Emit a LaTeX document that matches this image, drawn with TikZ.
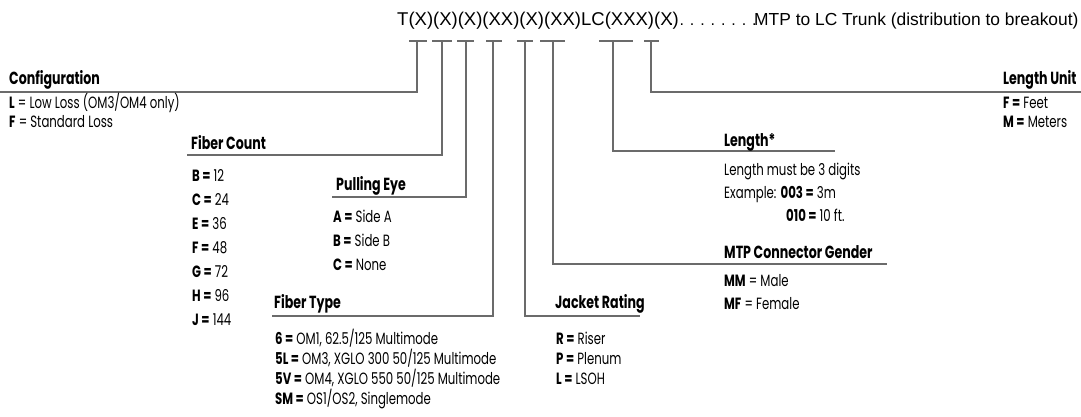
\documentclass[tikz,border=0pt]{standalone}
\usepackage{fontspec}
\setmainfont{Liberation Sans}
\newfontfamily\labfont{Poppins}[FakeStretch=0.72]
\begin{document}
\begin{tikzpicture}[x=1pt,y=-1pt,
  ln/.style={draw=black!58, line width=1.3pt},
  head/.style={anchor=base west, inner sep=0pt, font=\labfont\bfseries\fontsize{17.5}{18}\selectfont},
  item/.style={anchor=base west, inner sep=0pt, font=\labfont\fontsize{16.3}{17}\selectfont},
  title/.style={anchor=base west, inner sep=0pt, font=\fontsize{18.5}{19}\selectfont}]
\useasboundingbox (0,0) rectangle (1081,416);
\node[title] (code) at (397,25) {T(X)(X)(X)(XX)(X)(XX)LC(XXX)(X)};
\node[title, font=\fontsize{16}{18}\selectfont] (dots) at (669,25) {. . . . . . . . .};
\node[title, font=\fontsize{17.4}{18}\selectfont] (desc) at (754,25) {MTP to LC Trunk (distribution to breakout)};

% tick bars
\coordinate (t1) at (417,41); \draw[ln] (409,41) -- (427,41);
\coordinate (t2) at (442,41); \draw[ln] (432,41) -- (452,41);
\coordinate (t3) at (466,41); \draw[ln] (457,41) -- (474,41);
\coordinate (t4) at (493,41); \draw[ln] (486,41) -- (502,41);
\coordinate (t5) at (525,41); \draw[ln] (517,41) -- (533,41);
\coordinate (t6) at (553,41); \draw[ln] (540,41) -- (565,41);
\coordinate (t7) at (613,41); \draw[ln] (599,41) -- (633,41);
\coordinate (t8) at (651,41); \draw[ln] (644,41) -- (659,41);

% underline ends
\coordinate (e1) at (0,92);
\coordinate (e2) at (187,155);
\coordinate (e3) at (332,197);
\coordinate (e4) at (272,316);
\coordinate (e5) at (640,316);
\coordinate (e6) at (887,264);
\coordinate (e7) at (835,151);
\coordinate (e8) at (1081,92);

\draw[ln] (t1) |- (e1);
\draw[ln] (t2) |- (e2);
\draw[ln] (t3) |- (e3);
\draw[ln] (t4) |- (e4);
\draw[ln] (t5) |- (e5);
\draw[ln] (t6) |- (e6);
\draw[ln] (t7) |- (e7);
\draw[ln] (t8) |- (e8);

% Configuration
\node[head] (cfg) at (9,84) {Configuration};
\node[item] (cfgL) at (9,108) {\textbf{L} = Low Loss (OM3/OM4 only)};
\node[item] (cfgF) at (9,127) {\textbf{F} = Standard Loss};

% Fiber Count
\node[head] (fc) at (191,149) {Fiber Count};
\node[item] (fcB) at (192,181) {\textbf{B =} 12};
\node[item] (fcC) at (192,205) {\textbf{C =} 24};
\node[item] (fcE) at (192,229) {\textbf{E =} 36};
\node[item] (fcF) at (192,253) {\textbf{F =} 48};
\node[item] (fcG) at (192,277) {\textbf{G =} 72};
\node[item] (fcH) at (192,301) {\textbf{H =} 96};
\node[item] (fcJ) at (192,325) {\textbf{J =} 144};

% Pulling Eye
\node[head] (pe) at (336,190) {Pulling Eye};
\node[item] (peA) at (333,222) {\textbf{A =} Side A};
\node[item] (peB) at (333,246) {\textbf{B =} Side B};
\node[item] (peC) at (333,270) {\textbf{C =} None};

% Fiber Type
\node[head] (ft) at (274,308) {Fiber Type};
\node[item] (ft6) at (275,344) {\textbf{6 =} OM1, 62.5/125 Multimode};
\node[item] (ft5L) at (275,364) {\textbf{5L =} OM3, XGLO 300 50/125 Multimode};
\node[item] (ft5V) at (275,384) {\textbf{5V =} OM4, XGLO 550 50/125 Multimode};
\node[item] (ftSM) at (275,404) {\textbf{SM =} OS1/OS2, Singlemode};

% Jacket Rating
\node[head] (jr) at (555,308) {Jacket Rating};
\node[item] (jrR) at (556,344) {\textbf{R =} Riser};
\node[item] (jrP) at (556,364) {\textbf{P =} Plenum};
\node[item] (jrL) at (556,384) {\textbf{L =} LSOH};

% MTP Connector Gender
\node[head] (mtp) at (724,258) {MTP Connector Gender};
\node[item] (mtpM) at (724,286) {\textbf{MM} = Male};
\node[item] (mtpF) at (724,309) {\textbf{MF} = Female};

% Length
\node[head] (len) at (724,146) {Length*};
\node[item] (len1) at (724,175) {Length must be 3 digits};
\node[item] (len2) at (724,198) {Example: \textbf{003 =} 3m};
\node[item] (len3) at (786,221) {\textbf{010 =} 10 ft.};

% Length Unit
\node[head] (lu) at (1003,84) {Length Unit};
\node[item] (luF) at (1003,108) {\textbf{F =} Feet};
\node[item] (luM) at (1003,127) {\textbf{M =} Meters};
\end{tikzpicture}
\end{document}
